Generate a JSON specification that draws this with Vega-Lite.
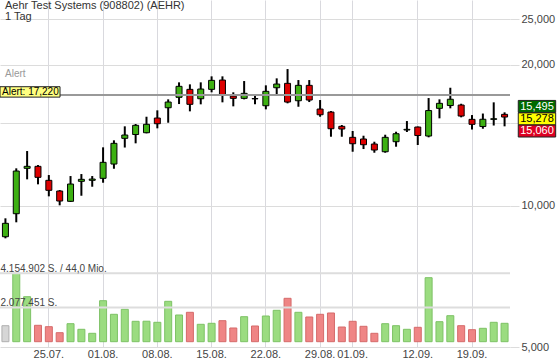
{
  "$schema": "https://vega.github.io/schema/vega-lite/v6.json",
  "width": 510,
  "height": 347,
  "autosize": "none",
  "padding": {"left": 0, "top": 0, "right": 50, "bottom": 15},
  "background": "white",
  "config": {"view": {"stroke": null}, "font": "Liberation Sans", "text": {"font": "Liberation Sans"}},
  "title": {"text": ["Aehr Test Systems (908802) (AEHR)", "1 Tag"], "anchor": "start", "frame": "group", "fontSize": 11, "fontWeight": "normal", "color": "#333333", "lineHeight": 11, "offset": -22, "dx": 5, "font": "Liberation Sans"},
  "datasets": {
    "candles": [
      {"d": "19.07.", "o": 8590, "h": 9402, "l": 8523, "c": 9174, "v": 971900, "vd": "flat"},
      {"d": "20.07.", "o": 9617, "h": 12016, "l": 9220, "c": 11858, "v": 4154902, "vd": "up"},
      {"d": "21.07.", "o": 12016, "h": 13081, "l": 11385, "c": 12135, "v": 2733500, "vd": "up"},
      {"d": "22.07.", "o": 12135, "h": 12212, "l": 11109, "c": 11497, "v": 996200, "vd": "down"},
      {"d": "25.07.", "o": 11329, "h": 11627, "l": 10473, "c": 10787, "v": 911000, "vd": "down"},
      {"d": "26.07.", "o": 10750, "h": 10802, "l": 10021, "c": 10235, "v": 546700, "vd": "down"},
      {"d": "27.07.", "o": 10220, "h": 11570, "l": 10185, "c": 11125, "v": 1093400, "vd": "up"},
      {"d": "28.07.", "o": 11274, "h": 11684, "l": 10504, "c": 11385, "v": 753200, "vd": "up"},
      {"d": "29.07.", "o": 11330, "h": 11570, "l": 10979, "c": 11400, "v": 510200, "vd": "up"},
      {"d": "01.08.", "o": 11441, "h": 13321, "l": 11197, "c": 12375, "v": 2490500, "vd": "up"},
      {"d": "02.08.", "o": 12272, "h": 13787, "l": 11992, "c": 13585, "v": 1664400, "vd": "up"},
      {"d": "03.08.", "o": 13922, "h": 14767, "l": 13308, "c": 14150, "v": 1968100, "vd": "up"},
      {"d": "04.08.", "o": 14185, "h": 14935, "l": 13585, "c": 14840, "v": 1239200, "vd": "up"},
      {"d": "05.08.", "o": 14311, "h": 15479, "l": 14269, "c": 14913, "v": 1245000, "vd": "up"},
      {"d": "08.08.", "o": 15380, "h": 15972, "l": 14623, "c": 14957, "v": 1178400, "vd": "up"},
      {"d": "09.08.", "o": 16177, "h": 16858, "l": 15031, "c": 16636, "v": 2454100, "vd": "up"},
      {"d": "10.08.", "o": 17025, "h": 18324, "l": 16474, "c": 17969, "v": 1621900, "vd": "up"},
      {"d": "11.08.", "o": 17706, "h": 18145, "l": 15894, "c": 16450, "v": 1785900, "vd": "down"},
      {"d": "12.08.", "o": 16908, "h": 18324, "l": 16450, "c": 17732, "v": 1056900, "vd": "up"},
      {"d": "15.08.", "o": 17706, "h": 18872, "l": 17449, "c": 18505, "v": 1117700, "vd": "up"},
      {"d": "16.08.", "o": 18532, "h": 18872, "l": 16612, "c": 17217, "v": 1275600, "vd": "down"},
      {"d": "17.08.", "o": 17133, "h": 17449, "l": 16289, "c": 16941, "v": 832200, "vd": "down"},
      {"d": "18.08.", "o": 16941, "h": 18442, "l": 16858, "c": 17363, "v": 1518600, "vd": "up"},
      {"d": "19.08.", "o": 16924, "h": 17276, "l": 16450, "c": 16899, "v": 953700, "vd": "down"},
      {"d": "22.08.", "o": 16337, "h": 18057, "l": 16051, "c": 17534, "v": 1561100, "vd": "up"},
      {"d": "23.08.", "o": 17846, "h": 18687, "l": 17242, "c": 18172, "v": 1907400, "vd": "up"},
      {"d": "24.08.", "o": 18234, "h": 19559, "l": 16531, "c": 16636, "v": 2636300, "vd": "down"},
      {"d": "25.08.", "o": 16743, "h": 18532, "l": 16257, "c": 18057, "v": 1785900, "vd": "up"},
      {"d": "26.08.", "o": 18057, "h": 18532, "l": 16636, "c": 16801, "v": 1500400, "vd": "down"},
      {"d": "29.08.", "o": 16074, "h": 16801, "l": 15479, "c": 15631, "v": 1664400, "vd": "down"},
      {"d": "30.08.", "o": 15839, "h": 15917, "l": 14032, "c": 14594, "v": 1743400, "vd": "down"},
      {"d": "31.08.", "o": 14767, "h": 14862, "l": 14032, "c": 14573, "v": 892900, "vd": "down"},
      {"d": "01.09.", "o": 13991, "h": 14431, "l": 13036, "c": 13559, "v": 1239200, "vd": "down"},
      {"d": "02.09.", "o": 13876, "h": 14102, "l": 13210, "c": 13493, "v": 935500, "vd": "down"},
      {"d": "06.09.", "o": 13539, "h": 13693, "l": 12973, "c": 13146, "v": 510200, "vd": "down"},
      {"d": "07.09.", "o": 13036, "h": 14171, "l": 12973, "c": 13991, "v": 1093400, "vd": "up"},
      {"d": "08.09.", "o": 13693, "h": 14381, "l": 13361, "c": 14241, "v": 971900, "vd": "up"},
      {"d": "09.09.", "o": 14502, "h": 15155, "l": 14360, "c": 14551, "v": 753200, "vd": "up"},
      {"d": "12.09.", "o": 14716, "h": 14752, "l": 13473, "c": 14115, "v": 874700, "vd": "down"},
      {"d": "13.09.", "o": 14081, "h": 16966, "l": 13991, "c": 15956, "v": 3887600, "vd": "up"},
      {"d": "14.09.", "o": 16130, "h": 16858, "l": 15357, "c": 16531, "v": 1214900, "vd": "up"},
      {"d": "15.09.", "o": 16353, "h": 17846, "l": 16130, "c": 16866, "v": 1579300, "vd": "up"},
      {"d": "16.09.", "o": 16393, "h": 16498, "l": 15433, "c": 15532, "v": 971900, "vd": "down"},
      {"d": "19.09.", "o": 15282, "h": 15608, "l": 14537, "c": 14913, "v": 728900, "vd": "down"},
      {"d": "20.09.", "o": 14752, "h": 15724, "l": 14594, "c": 15289, "v": 814000, "vd": "up"},
      {"d": "21.09.", "o": 15282, "h": 16612, "l": 14826, "c": 15327, "v": 1178400, "vd": "up"},
      {"d": "22.09.", "o": 15661, "h": 15816, "l": 14767, "c": 15456, "v": 1117700, "vd": "up"}
    ],
    "vlines": [
      {"d": "19.07.", "v": 4154902, "label": "4.154.902 S. / 44,0 Mio."},
      {"d": "19.07.", "v": 2077451, "label": "2.077.451 S."}
    ],
    "alert": [
      {"d": "19.07.", "v": 17220, "label": "Alert: 17,220", "name": "Alert"}
    ],
    "quotes": [
      {"d": "22.09.", "k": "ask", "p": 15495},
      {"d": "22.09.", "k": "last", "p": 15278},
      {"d": "22.09.", "k": "bid", "p": 15060}
    ]
  },
  "layer": [
    {
      "layer": [
        {
          "data": {"name": "candles"},
          "mark": {"type": "bar", "size": 7, "strokeWidth": 1},
          "encoding": {
            "x": {"field": "d", "type": "ordinal", "sort": null, "scale": {"paddingInner": 0, "paddingOuter": 0},
              "axis": {"values": ["25.07.", "01.08.", "08.08.", "15.08.", "22.08.", "29.08.", "01.09.", "12.09.", "19.09."], "grid": true, "gridColor": "#d9d9de", "gridWidth": 1, "ticks": false, "domain": false, "labelAngle": 0, "labelFontSize": 11, "labelColor": "#444444", "labelPadding": 1, "title": null, "labelOverlap": false, "bandPosition": 0.5, "labelFont": "Liberation Sans"}},
            "y": {"field": "v", "type": "quantitative", "scale": {"domain": [-321943, 20756225], "nice": false, "zero": false}, "axis": null},
            "y2": {"datum": 0},
            "fill": {"condition": [{"test": "datum.vd == 'up'", "value": "#9bdc80"}, {"test": "datum.vd == 'down'", "value": "#ef8585"}], "value": "#d6d6d6"},
            "stroke": {"condition": [{"test": "datum.vd == 'up'", "value": "#7dc265"}, {"test": "datum.vd == 'down'", "value": "#d56a6a"}], "value": "#b0b0b0"}
          }
        },
        {
          "data": {"name": "vlines"},
          "mark": {"type": "rule", "color": "#dddddd", "strokeWidth": 2},
          "encoding": {
            "y": {"field": "v", "type": "quantitative", "scale": {"domain": [-321943, 20756225], "nice": false, "zero": false}, "axis": null}
          }
        },
        {
          "data": {"name": "vlines"},
          "mark": {"type": "text", "align": "left", "baseline": "alphabetic", "dx": -4.9, "dy": -1.5, "fontSize": 10, "color": "#444444"},
          "encoding": {
            "x": {"field": "d", "type": "ordinal", "sort": null},
            "y": {"field": "v", "type": "quantitative", "scale": {"domain": [-321943, 20756225], "nice": false, "zero": false}, "axis": null},
            "text": {"field": "label"}
          }
        }
      ]
    },
    {
      "layer": [
        {
          "data": {"name": "candles"},
          "mark": {"type": "rule", "color": "#000000", "strokeWidth": 2},
          "encoding": {
            "x": {"field": "d", "type": "ordinal", "sort": null},
            "y": {"field": "l", "type": "quantitative", "scale": {"type": "log", "domain": [5000, 27450], "nice": false},
              "axis": {"orient": "right", "values": [5000, 10000, 15000, 20000, 25000], "format": ",", "labelExpr": "datum.value == 15000 ? '' : datum.label", "grid": true, "gridColor": "#dcdcdc", "gridWidth": 1, "tickColor": "#dcdcdc", "tickSize": 9, "domain": false, "labelPadding": 2, "labelFontSize": 11, "labelColor": "#444444", "title": null, "labelFont": "Liberation Sans"}},
            "y2": {"field": "h"}
          }
        },
        {
          "data": {"name": "candles"},
          "mark": {"type": "bar", "size": 6, "stroke": "#000000", "strokeWidth": 1},
          "encoding": {
            "x": {"field": "d", "type": "ordinal", "sort": null},
            "y": {"field": "o", "type": "quantitative", "scale": {"type": "log", "domain": [5000, 27450], "nice": false}},
            "y2": {"field": "c"},
            "fill": {"condition": {"test": "datum.c >= datum.o", "value": "#3db012"}, "value": "#dd0000"}
          }
        },
        {
          "data": {"name": "alert"},
          "mark": {"type": "rule", "color": "#999999", "strokeWidth": 2},
          "encoding": {
            "y": {"field": "v", "type": "quantitative", "scale": {"type": "log", "domain": [5000, 27450], "nice": false}}
          }
        },
        {
          "data": {"name": "alert"},
          "mark": {"type": "point", "shape": "M-1.08,-1.66H10.92V0.42H-1.08Z", "size": 100, "filled": true, "fill": "#ffff80", "stroke": "#222222", "strokeWidth": 1, "opacity": 1},
          "encoding": {
            "x": {"field": "d", "type": "ordinal", "sort": null},
            "y": {"field": "v", "type": "quantitative", "scale": {"type": "log", "domain": [5000, 27450], "nice": false}}
          }
        },
        {
          "data": {"name": "alert"},
          "mark": {"type": "text", "align": "left", "baseline": "middle", "dx": -3.4, "dy": -3, "fontSize": 10, "color": "#000000"},
          "encoding": {
            "x": {"field": "d", "type": "ordinal", "sort": null},
            "y": {"field": "v", "type": "quantitative", "scale": {"type": "log", "domain": [5000, 27450], "nice": false}},
            "text": {"field": "label"}
          }
        },
        {
          "data": {"name": "alert"},
          "mark": {"type": "text", "align": "left", "baseline": "middle", "dx": -0.4, "dy": -20.6, "fontSize": 10, "color": "#999999"},
          "encoding": {
            "x": {"field": "d", "type": "ordinal", "sort": null},
            "y": {"field": "v", "type": "quantitative", "scale": {"type": "log", "domain": [5000, 27450], "nice": false}},
            "text": {"field": "name"}
          }
        },
        {
          "data": {"name": "quotes"},
          "mark": {"type": "point", "size": 100, "filled": true, "stroke": "#222222", "strokeWidth": 1, "opacity": 1},
          "encoding": {
            "x": {"field": "d", "type": "ordinal", "sort": null},
            "y": {"field": "p", "type": "quantitative", "scale": {"type": "log", "domain": [5000, 27450], "nice": false}},
            "shape": {"condition": [{"test": "datum.k == 'ask'", "value": "M2.74,-3.22H10.22V-0.82H2.74Z"}, {"test": "datum.k == 'last'", "value": "M2.74,-1.3H10.22V1.1H2.74Z"}], "value": "M2.74,0.54H10.22V2.94H2.74Z"},
            "fill": {"condition": [{"test": "datum.k == 'ask'", "value": "#006a00"}, {"test": "datum.k == 'last'", "value": "#ffff00"}], "value": "#dd0022"}
          }
        },
        {
          "data": {"name": "quotes"},
          "mark": {"type": "text", "align": "center", "baseline": "middle", "dx": 32.4, "dy": {"expr": "datum.k == 'ask' ? -10 : (datum.k == 'bid' ? 8.7 : -0.5)"}, "fontSize": 11},
          "encoding": {
            "x": {"field": "d", "type": "ordinal", "sort": null},
            "y": {"field": "p", "type": "quantitative", "scale": {"type": "log", "domain": [5000, 27450], "nice": false}},
            "text": {"field": "p", "format": ","},
            "fill": {"condition": {"test": "datum.k == 'last'", "value": "#000000"}, "value": "#ffffff"}
          }
        }
      ]
    }
  ],
  "resolve": {"scale": {"y": "independent"}}
}
